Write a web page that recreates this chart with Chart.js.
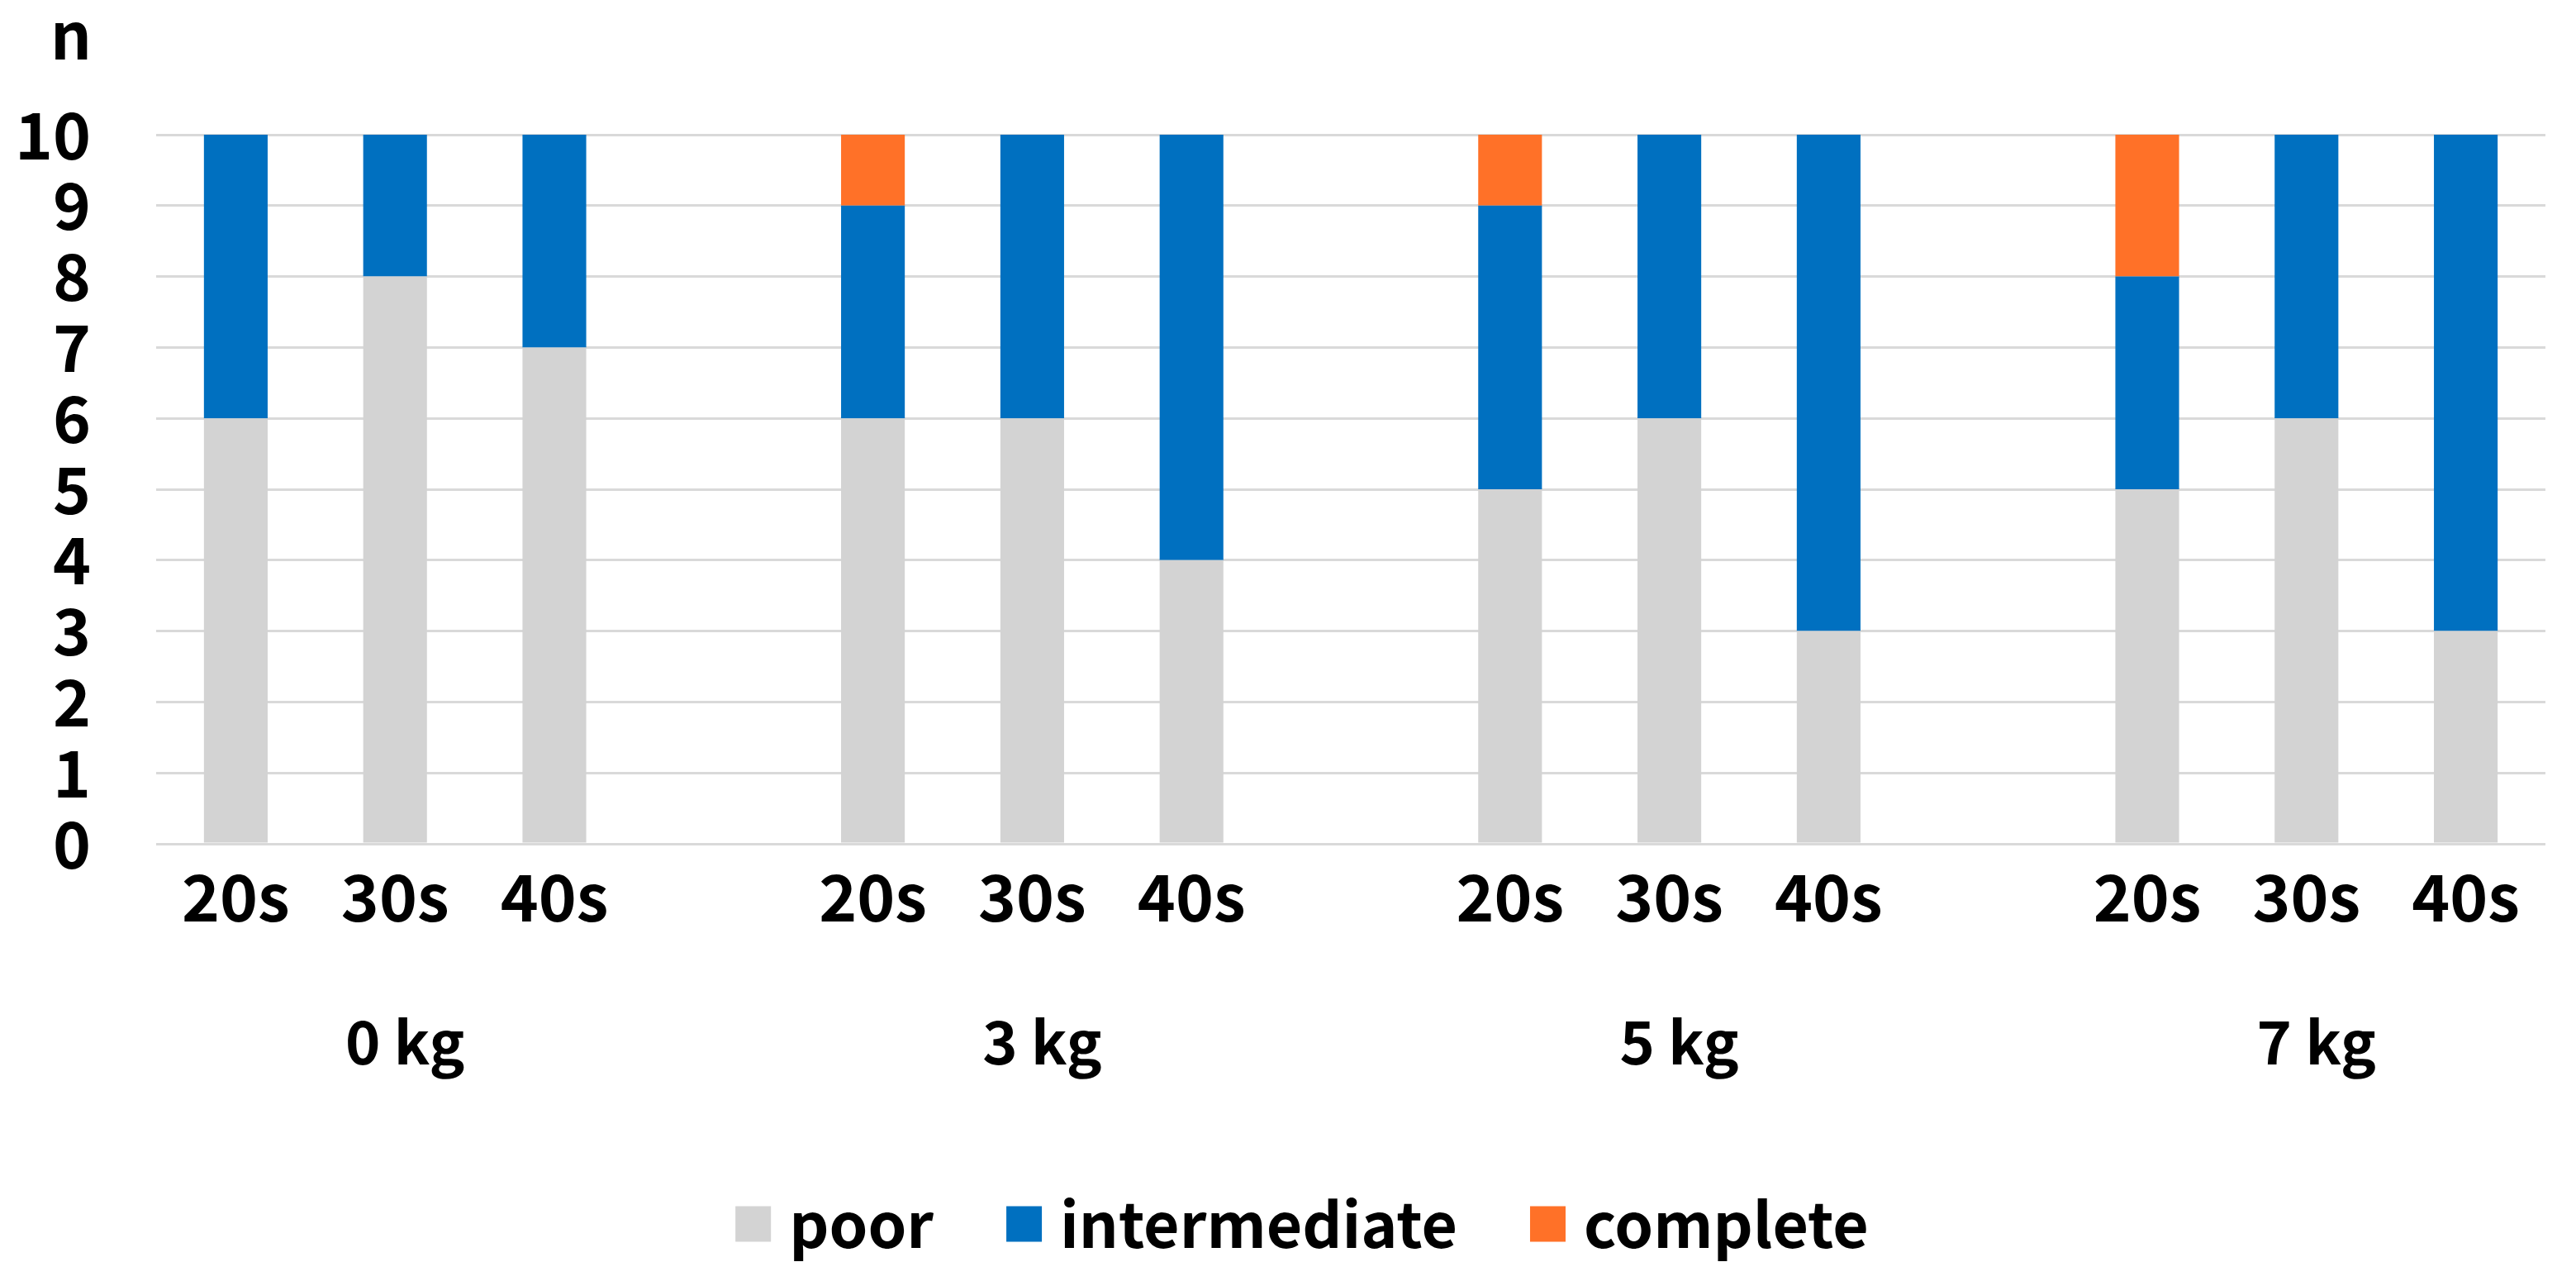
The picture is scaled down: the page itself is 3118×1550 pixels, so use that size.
<!DOCTYPE html>
<html>
<head>
<meta charset="utf-8">
<script src="https://cdn.jsdelivr.net/npm/chart.js@4"></script>
<style>
html,body{margin:0;padding:0;background:#fff;}
#wrap{width:3118px;height:1550px;}
</style>
</head>
<body>
<div id="wrap"><canvas id="c" width="3118" height="1550"></canvas></div>
<script>
const categories = ["20s","30s","40s","","20s","30s","40s","","20s","30s","40s","","20s","30s","40s"];
const groupLabels = ["0 kg","3 kg","5 kg","7 kg"];
const groupCenterIndex = [1,5,9,13];
const poor =         [6,8,7,null,6,6,4,null,5,6,3,null,5,6,3];
const intermediate = [4,2,3,null,3,4,6,null,4,4,7,null,3,4,7];
const complete =     [0,0,0,null,1,0,0,null,1,0,0,null,2,0,0];
const yTicks = [0,1,2,3,4,5,6,7,8,9,10];
const yAxisTitle = "n";

const FONT = "'Noto Sans CJK JP', 'Noto Sans', sans-serif";

const extraText = {
  id: 'extraText',
  afterDraw(chart) {
    const ctx = chart.ctx;
    const x = chart.scales.x;
    ctx.save();
    ctx.fillStyle = '#000';
    ctx.font = 'bold 72px ' + FONT;
    ctx.textAlign = 'center';
    ctx.textBaseline = 'alphabetic';
    groupLabels.forEach((g, i) => {
      ctx.fillText(g, x.getPixelForValue(groupCenterIndex[i]) + 12, 1288);
    });
    ctx.font = 'bold 78px ' + FONT;
    ctx.textAlign = 'right';
    ctx.fillText(yAxisTitle, 111, 72);

    // legend
    const box = 43, gapBoxText = 22, gapItems = 88, cy = 1481, centerX = 1576;
    ctx.font = 'bold 75px ' + FONT;
    ctx.textAlign = 'left';
    ctx.textBaseline = 'middle';
    const items = chart.data.datasets.map(d => ({text: d.label, color: d.backgroundColor, w: ctx.measureText(d.label).width}));
    let total = items.reduce((s, it) => s + box + gapBoxText + it.w, 0) + gapItems * (items.length - 1);
    let cx = centerX - total / 2;
    items.forEach(it => {
      ctx.fillStyle = it.color;
      ctx.fillRect(cx, cy - box / 2, box, box);
      cx += box + gapBoxText;
      ctx.fillStyle = '#000';
      ctx.fillText(it.text, cx, cy);
      cx += it.w + gapItems;
    });
    ctx.restore();
  }
};

new Chart(document.getElementById('c'), {
  type: 'bar',
  data: {
    labels: categories,
    datasets: [
      {label: 'poor', data: poor, backgroundColor: '#D3D3D3'},
      {label: 'intermediate', data: intermediate, backgroundColor: '#0070C0'},
      {label: 'complete', data: complete, backgroundColor: '#FF7128'}
    ]
  },
  options: {
    responsive: false,
    animation: false,
    devicePixelRatio: 1,
    layout: {padding: {top: 163, right: 37, left: 0, bottom: 179}},
    datasets: {bar: {barPercentage: 0.4, categoryPercentage: 1.0}},
    plugins: {
      tooltip: {enabled: false},
      legend: {display: false}
    },
    scales: {
      x: {
        stacked: true,
        grid: {display: false},
        border: {display: false},
        ticks: {color: '#000', padding: 10, maxRotation: 0, autoSkip: false,
                font: {family: FONT, size: 78, weight: 'bold'}},
        afterFit(s) { s.height = 350; }
      },
      y: {
        stacked: true,
        min: 0, max: 10,
        afterBuildTicks(s) { s.ticks = yTicks.map(v => ({value: v})); },
        grid: {color: '#D9D9D9', lineWidth: 3, drawTicks: false},
        border: {display: false},
        ticks: {color: '#000', padding: 79, autoSkip: false, stepSize: 1,
                font: {family: FONT, size: 78, weight: 'bold'}},
        afterFit(s) { s.width = 189; }
      }
    }
  },
  plugins: [extraText]
});
</script>
</body>
</html>
